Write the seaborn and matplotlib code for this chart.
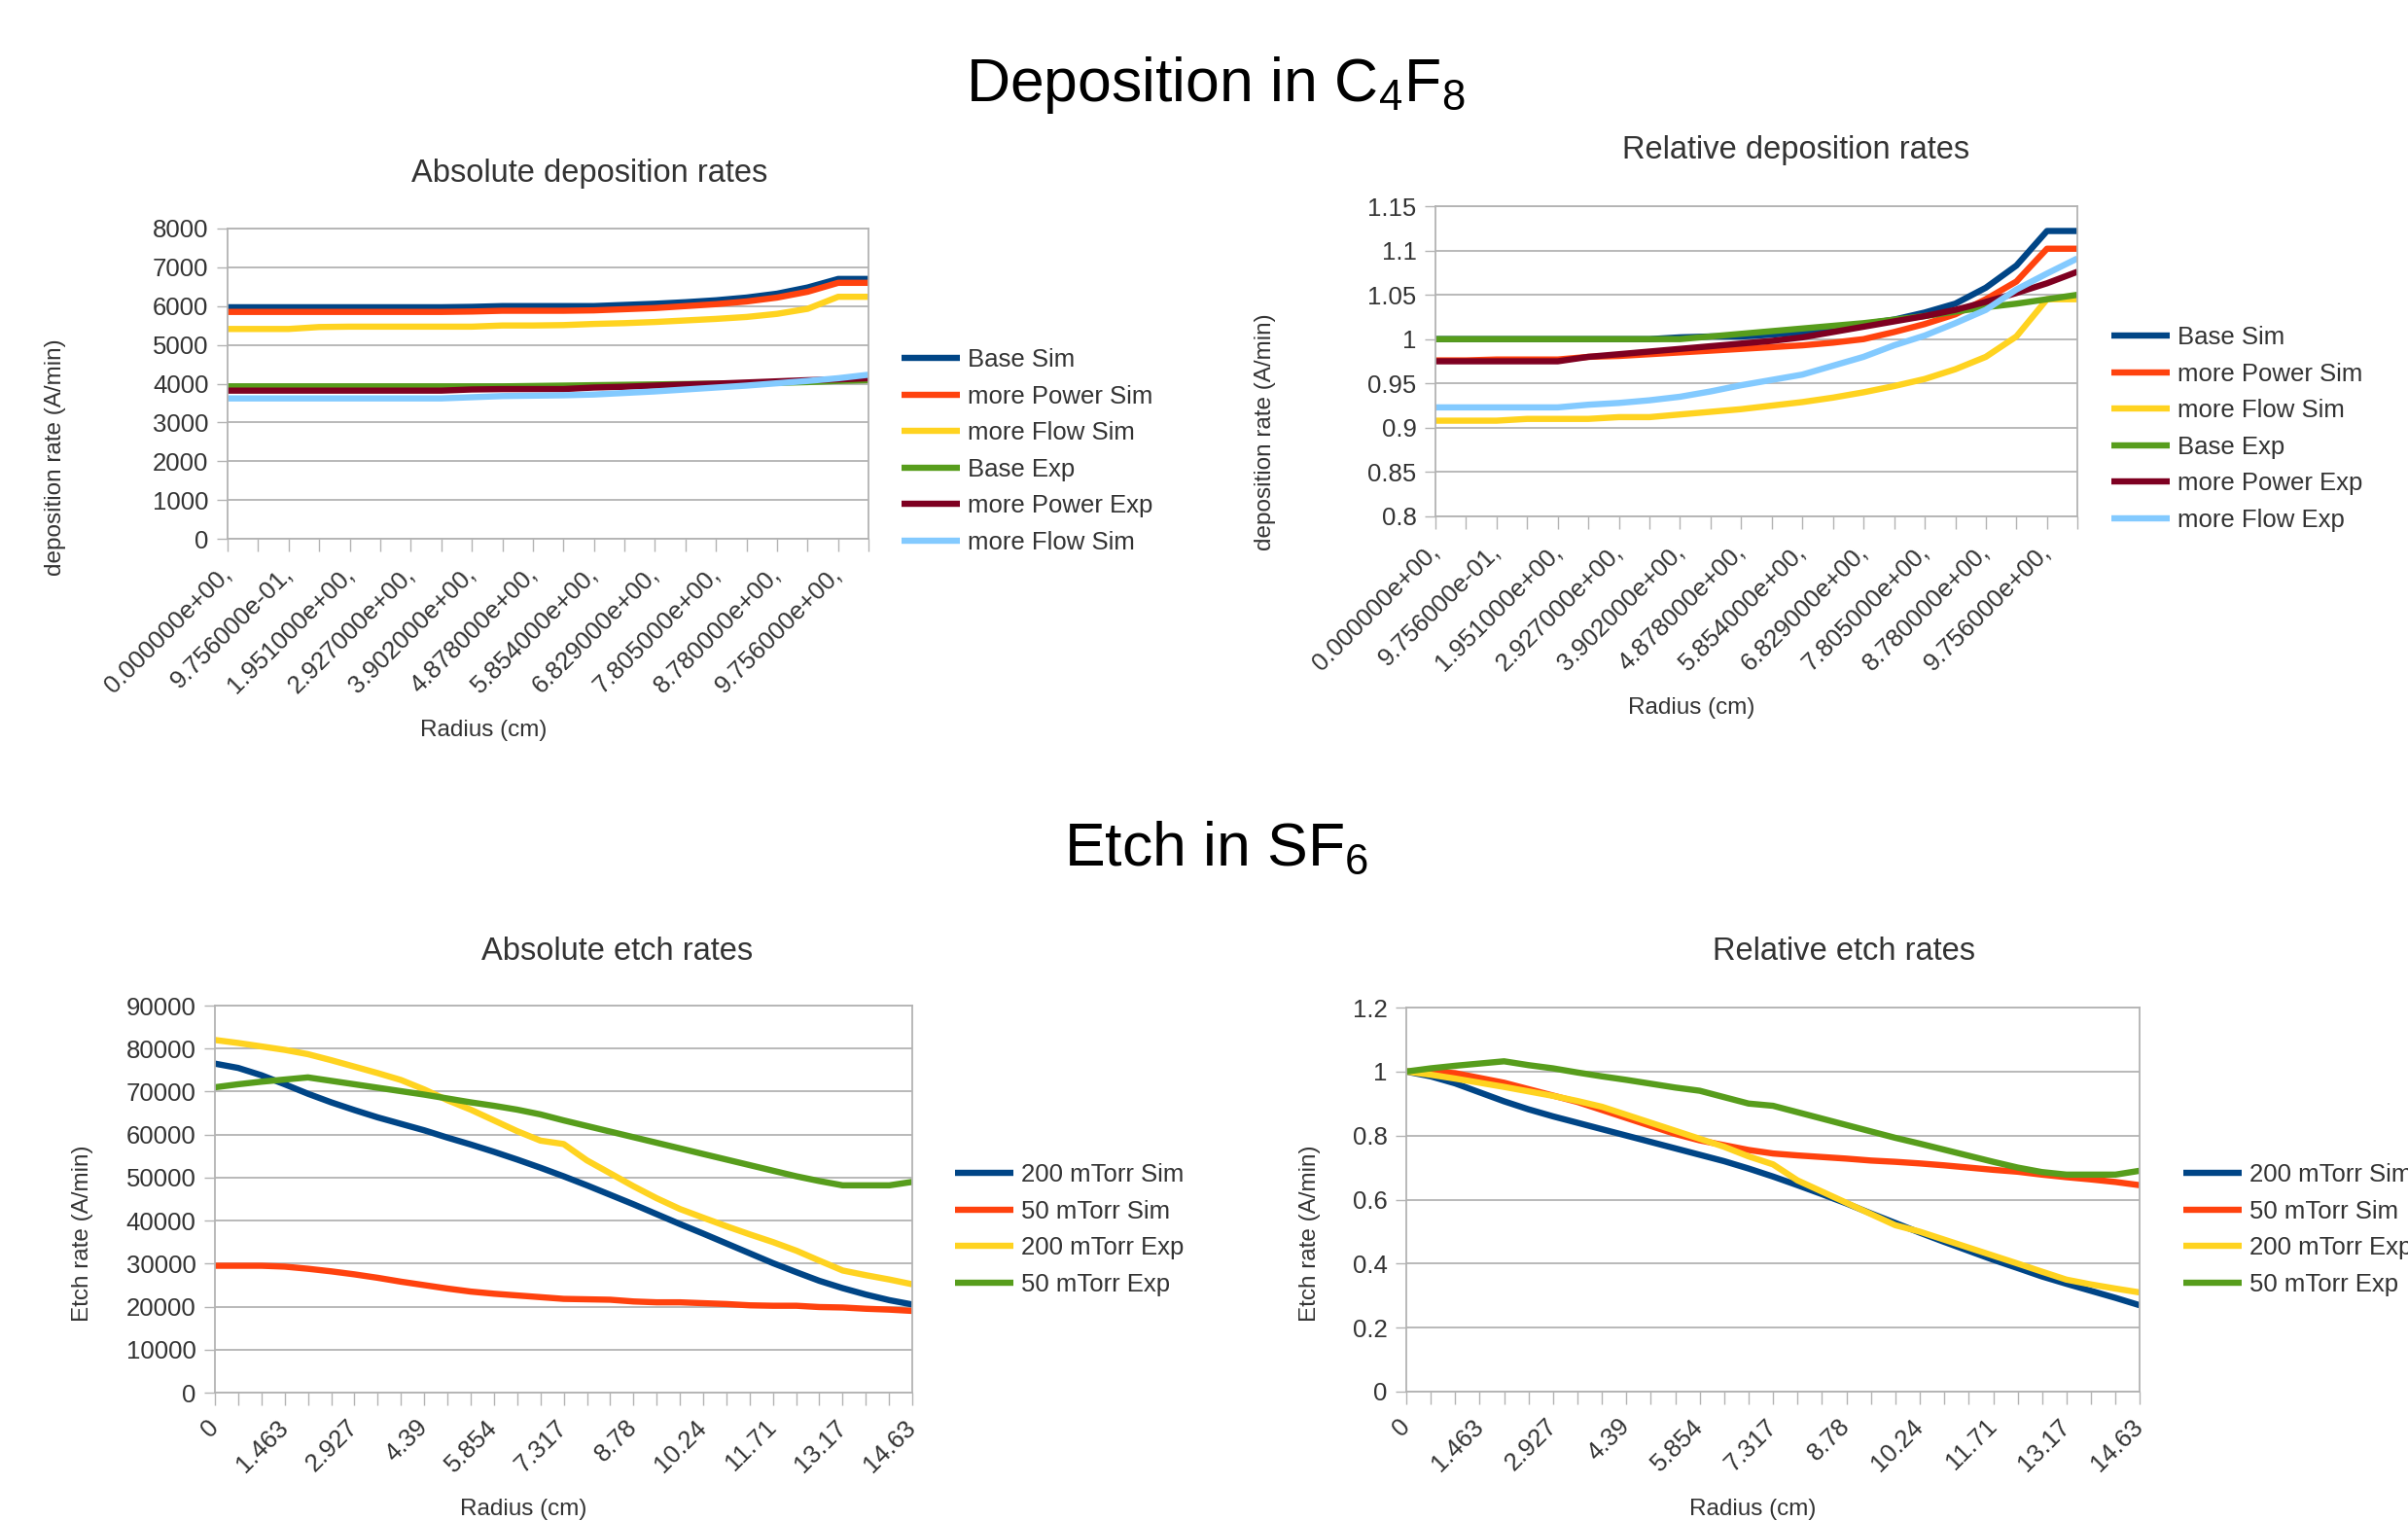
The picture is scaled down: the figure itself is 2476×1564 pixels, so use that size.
import numpy as np
import pandas as pd
import matplotlib
matplotlib.use("Agg")
import matplotlib.pyplot as plt
import seaborn as sns
from matplotlib.ticker import FuncFormatter

# radius of each sample point (cm) - category axis
radius = [0, 0.4878, 0.9756, 1.463, 1.951, 2.439, 2.927, 3.415, 3.902, 4.39, 4.878,
          5.366, 5.854, 6.341, 6.829, 7.317, 7.805, 8.293, 8.78, 9.268, 9.756, 10.24,
          10.73, 11.22, 11.71, 12.2, 12.68, 13.17, 13.66, 14.15, 14.63]

dep_ticklabels = ["0.000000e+00,", "9.756000e-01,", "1.951000e+00,", "2.927000e+00,",
                  "3.902000e+00,", "4.878000e+00,", "5.854000e+00,", "6.829000e+00,",
                  "7.805000e+00,", "8.780000e+00,", "9.756000e+00,"]
etch_ticklabels = ["0", "1.463", "2.927", "4.39", "5.854", "7.317", "8.78", "10.24",
                   "11.71", "13.17", "14.63"]

# deposition in C4F8, absolute (A/min)
dep_abs_names = ["Base Sim", "more Power Sim", "more Flow Sim", "Base Exp", "more Power Exp", "more Flow Sim"]
base_sim_abs = [5970, 5970, 5970, 5970, 5970, 5970, 5970, 5970, 5980, 6000, 6000, 6000, 6000,
                6030, 6060, 6100, 6150, 6220, 6320, 6480, 6700, 6700]
power_sim_abs = [5850, 5850, 5850, 5850, 5850, 5850, 5850, 5850, 5860, 5880, 5880, 5880, 5890,
                 5920, 5950, 6000, 6050, 6120, 6220, 6370, 6600, 6600]
flow_sim_abs = [5410, 5410, 5410, 5460, 5470, 5470, 5470, 5470, 5470, 5500, 5500, 5510, 5540,
                5560, 5590, 5630, 5670, 5720, 5800, 5930, 6240, 6240]
base_exp_abs = [3930, 3930, 3930, 3930, 3930, 3930, 3930, 3930, 3930, 3930, 3940, 3950, 3960,
                3970, 3980, 3990, 4000, 4010, 4020, 4040, 4070, 4090]
power_exp_abs = [3820, 3820, 3820, 3820, 3820, 3820, 3820, 3820, 3850, 3860, 3860, 3860, 3900,
                 3920, 3950, 3980, 4000, 4030, 4060, 4090, 4110, 4140]
flow_exp_abs = [3620, 3620, 3620, 3620, 3620, 3620, 3620, 3620, 3650, 3680, 3690, 3700, 3720,
                3760, 3800, 3850, 3900, 3950, 4010, 4070, 4140, 4230]

# deposition in C4F8, relative
dep_rel_names = ["Base Sim", "more Power Sim", "more Flow Sim", "Base Exp", "more Power Exp", "more Flow Exp"]
base_sim_rel = [1.0, 1.0, 1.0, 1.0, 1.0, 1.0, 1.0, 1.0, 1.002, 1.003, 1.003, 1.005, 1.008,
                1.012, 1.017, 1.022, 1.03, 1.04, 1.058, 1.083, 1.122, 1.122]
power_sim_rel = [0.976, 0.976, 0.977, 0.977, 0.977, 0.98, 0.981, 0.983, 0.985, 0.987, 0.989,
                 0.991, 0.993, 0.996, 1.0, 1.008, 1.017, 1.028, 1.045, 1.065, 1.102, 1.102]
flow_sim_rel = [0.908, 0.908, 0.908, 0.91, 0.91, 0.91, 0.912, 0.912, 0.915, 0.918, 0.921,
                0.925, 0.929, 0.934, 0.94, 0.947, 0.955, 0.966, 0.98, 1.003, 1.045, 1.045]
base_exp_rel = [1.0, 1.0, 1.0, 1.0, 1.0, 1.0, 1.0, 1.0, 1.0, 1.003, 1.006, 1.009, 1.012,
                1.015, 1.018, 1.022, 1.026, 1.031, 1.036, 1.04, 1.045, 1.05]
power_exp_rel = [0.975, 0.975, 0.975, 0.975, 0.975, 0.98, 0.983, 0.986, 0.989, 0.992, 0.995,
                 0.998, 1.002, 1.008, 1.014, 1.02, 1.026, 1.033, 1.042, 1.052, 1.063, 1.076]
flow_exp_rel = [0.923, 0.923, 0.923, 0.923, 0.923, 0.926, 0.928, 0.931, 0.935, 0.941, 0.948,
                0.954, 0.96, 0.97, 0.98, 0.993, 1.004, 1.018, 1.033, 1.056, 1.074, 1.091]

# etch in SF6, absolute (A/min)
etch_names = ["200 mTorr Sim", "50 mTorr Sim", "200 mTorr Exp", "50 mTorr Exp"]
sim200_abs = [76500, 75500, 73800, 71700, 69500, 67500, 65700, 64000, 62500, 61000, 59300,
              57700, 56000, 54200, 52300, 50300, 48200, 46000, 43800, 41500, 39200, 37000,
              34700, 32400, 30100, 28000, 26000, 24300, 22800, 21500, 20500]
sim50_abs = [29500, 29500, 29500, 29300, 28800, 28200, 27500, 26700, 25800, 25000, 24200,
             23500, 23000, 22600, 22200, 21800, 21700, 21600, 21200, 21000, 21000, 20800,
             20600, 20300, 20200, 20200, 19900, 19800, 19500, 19300, 19000]
exp200_abs = [82000, 81300, 80500, 79700, 78700, 77300, 75800, 74300, 72700, 70500, 68000,
              65800, 63300, 60800, 58600, 57800, 54000, 51000, 48000, 45200, 42700, 40700,
              38700, 36800, 35000, 33000, 30700, 28400, 27300, 26300, 25200]
exp50_abs = [71000, 71700, 72300, 72800, 73300, 72500, 71700, 70900, 70100, 69300, 68400,
             67500, 66700, 65800, 64700, 63300, 62000, 60700, 59400, 58100, 56800, 55500,
             54200, 52900, 51600, 50300, 49200, 48200, 48200, 48200, 49000]

# etch in SF6, relative
sim200_rel = [1.0, 0.985, 0.963, 0.935, 0.907, 0.882, 0.86, 0.84, 0.82, 0.8, 0.78, 0.76,
              0.74, 0.72, 0.697, 0.672, 0.645, 0.617, 0.588, 0.557, 0.527, 0.497, 0.468,
              0.44, 0.412, 0.386, 0.36, 0.337, 0.315, 0.293, 0.27]
sim50_rel = [1.0, 1.0, 0.995, 0.98, 0.965, 0.945, 0.925, 0.905, 0.88, 0.855, 0.83, 0.805,
             0.785, 0.77, 0.755, 0.744, 0.738, 0.733, 0.728, 0.722, 0.718, 0.713, 0.707,
             0.7, 0.693, 0.687, 0.678, 0.67, 0.663, 0.655, 0.645]
exp200_rel = [1.0, 0.99, 0.978, 0.965, 0.952, 0.938, 0.924, 0.908, 0.89, 0.865, 0.84, 0.815,
              0.79, 0.765, 0.735, 0.71, 0.66, 0.625, 0.59, 0.555, 0.52, 0.5, 0.475, 0.45,
              0.425, 0.4, 0.375, 0.35, 0.335, 0.322, 0.31]
exp50_rel = [1.0, 1.01, 1.018, 1.025, 1.032, 1.02, 1.01, 0.997, 0.985, 0.974, 0.962, 0.95,
             0.94, 0.92, 0.9, 0.893, 0.873, 0.853, 0.833, 0.813, 0.793, 0.775, 0.756, 0.737,
             0.718, 0.7, 0.686, 0.678, 0.678, 0.678, 0.69]

# libreoffice default palette
colors = ["#004586", "#ff420e", "#ffd320", "#579d1c", "#7e0021", "#83caff"]

sns.set_style("white")
plt.rcParams["font.family"] = ["Liberation Sans", "DejaVu Sans"]
plt.rcParams["mathtext.fontset"] = "custom"
plt.rcParams["mathtext.rm"] = "Liberation Sans"
plt.rcParams["mathtext.it"] = "Liberation Sans"

W, H = 2476, 1564
fig = plt.figure(figsize=(W / 100, H / 100), dpi=100)
GRID = "#b3b3b3"
TXT = "#333333"


def px_axes(l, t, r, b):
    return fig.add_axes([l / W, 1 - b / H, (r - l) / W, (b - t) / H])


def ftext(x, y, s, **kw):
    return fig.text(x / W, 1 - y / H, s, **kw)


def draw_panel(ax, xs, series, names, ylim, yticks, xlabels, step, title, tpos,
               ylabel, ylpos, xlpos, legpos):
    for vals, name, c in zip(series, names, colors):
        sns.lineplot(x=xs, y=vals, color=c, linewidth=4.6, label=name, ax=ax,
                     solid_joinstyle="round", solid_capstyle="butt")
    handles, labels = ax.get_legend_handles_labels()
    ax.get_legend().remove()
    ax.set_xlim(xs[0], xs[-1])
    ax.set_ylim(*ylim)
    ax.set_yticks(yticks)
    ax.yaxis.set_major_formatter(FuncFormatter(lambda v, _: f"{v:g}"))
    ax.set_xticks(xs[::step])
    ax.set_xticklabels(xlabels, rotation=45, ha="right", va="center",
                       rotation_mode="anchor")
    ax.set_xticks(xs, minor=True)
    ax.grid(axis="y", color=GRID, linewidth=1.3)
    ax.grid(axis="x", visible=False)
    for sp in ax.spines.values():
        sp.set_color(GRID)
        sp.set_linewidth(1.3)
    ax.tick_params(axis="x", which="both", direction="out", length=9, width=1,
                   color=GRID, labelsize=18.5, labelcolor=TXT, pad=14, bottom=True)
    ax.tick_params(axis="y", direction="out", length=8, width=1, color=GRID,
                   labelsize=18.5, labelcolor=TXT, pad=6, left=True)
    ax.set_xlabel("")
    ax.set_ylabel("")
    ftext(tpos[0], tpos[1], title, fontsize=23.5, color=TXT, ha="center", va="center")
    ftext(ylpos[0], ylpos[1], ylabel, fontsize=17.5, color=TXT, ha="center",
          va="center", rotation=90)
    ftext(xlpos[0], xlpos[1], "Radius (cm)", fontsize=17.5, color=TXT, ha="center",
          va="center")
    fig.legend(handles, labels, loc="upper left",
               bbox_to_anchor=(legpos[0] / W, 1 - legpos[1] / H),
               frameon=False, fontsize=18.5, handlelength=2.35, handletextpad=0.3,
               labelspacing=0.53, borderpad=0, borderaxespad=0, labelcolor=TXT)


ax1 = px_axes(234, 235, 893, 554)
draw_panel(ax1, radius[:22],
           [base_sim_abs, power_sim_abs, flow_sim_abs, base_exp_abs, power_exp_abs, flow_exp_abs],
           dep_abs_names, (0, 8000), range(0, 8001, 1000), dep_ticklabels, 2,
           "Absolute deposition rates", (606, 178), "deposition rate (A/min)", (57, 470),
           (497, 751), (927, 358))

ax2 = px_axes(1476, 212, 2136, 531)
draw_panel(ax2, radius[:22],
           [base_sim_rel, power_sim_rel, flow_sim_rel, base_exp_rel, power_exp_rel, flow_exp_rel],
           dep_rel_names, (0.8, 1.15), np.arange(0.8, 1.1501, 0.05), dep_ticklabels, 2,
           "Relative deposition rates", (1847, 154), "deposition rate (A/min)", (1301, 444),
           (1739, 728), (2171, 335))

ax3 = px_axes(221, 1034, 938, 1432)
draw_panel(ax3, radius,
           [sim200_abs, sim50_abs, exp200_abs, exp50_abs],
           etch_names, (0, 90000), range(0, 90001, 10000), etch_ticklabels, 3,
           "Absolute etch rates", (635, 978), "Etch rate (A/min)", (85, 1268),
           (538, 1552), (982, 1196))

ax4 = px_axes(1446, 1036, 2200, 1431)
draw_panel(ax4, radius,
           [sim200_rel, sim50_rel, exp200_rel, exp50_rel],
           etch_names, (0, 1.2), np.arange(0, 1.201, 0.2), etch_ticklabels, 3,
           "Relative etch rates", (1896, 978), "Etch rate (A/min)", (1347, 1268),
           (1802, 1552), (2245, 1196))

ftext(1250, 104, "Deposition in C$_4$F$_8$", fontsize=45, color="black", ha="center",
      va="baseline")
ftext(1251, 890, "Etch in SF$_6$", fontsize=45, color="black", ha="center",
      va="baseline")

fig.savefig("out.png", dpi=100, facecolor="white")
